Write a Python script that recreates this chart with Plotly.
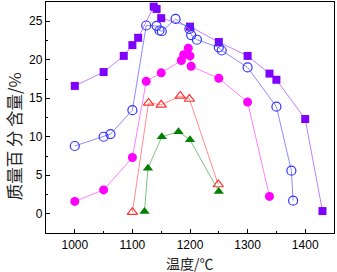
import plotly.graph_objects as go

# Series data (temperature in °C, mass percent)
sq_x = [1000, 1050, 1085, 1100, 1110, 1137, 1142, 1150, 1200, 1250, 1300, 1338, 1350, 1400, 1430]
sq_y = [16.6, 18.4, 20.5, 21.9, 22.85, 26.9, 26.6, 25.4, 24.3, 22.3, 20.5, 18.2, 17.4, 12.3, 0.35]

oc_x = [1000, 1050, 1062, 1100, 1124, 1142, 1147, 1151, 1175, 1199, 1202, 1212, 1250, 1255, 1300, 1350, 1376, 1379]
oc_y = [8.8, 10.0, 10.35, 13.45, 24.45, 24.4, 23.8, 23.7, 25.3, 24.0, 23.2, 22.6, 21.6, 21.2, 19.0, 13.9, 5.6, 1.7]

fc_x = [1000, 1050, 1100, 1124, 1150, 1185, 1189, 1197, 1200, 1202, 1250, 1300, 1338]
fc_y = [1.6, 3.1, 7.3, 17.2, 18.3, 19.9, 20.65, 21.5, 20.5, 19.15, 17.6, 14.5, 2.25]

ot_x = [1100, 1128, 1150, 1183, 1199, 1249]
ot_y = [0.2, 14.4, 14.15, 15.3, 14.9, 3.8]

ft_x = [1121, 1127, 1151, 1180, 1200, 1250]
ft_y = [0.3, 5.9, 10.0, 10.65, 9.6, 2.9]

x_ticks = [1000, 1100, 1200, 1300, 1400]
y_ticks = [0, 5, 10, 15, 20, 25]

fig = go.Figure()

def add(x, y, sym, mcol, lcol, size, open_=False):
    if open_:
        marker = dict(symbol=sym + "-open", size=size, color=mcol, line=dict(width=1.2, color=mcol))
    else:
        marker = dict(symbol=sym, size=size, color=mcol, line=dict(width=0))
    fig.add_trace(go.Scatter(x=x, y=y, mode="lines+markers",
                             line=dict(color=lcol, width=1), marker=marker,
                             showlegend=False, hoverinfo="skip"))

add(sq_x, sq_y, "square", "#8000FF", "#C080FF", 8)
add(oc_x, oc_y, "circle", "#3333FF", "#8C8CFF", 9, open_=True)
add(fc_x, fc_y, "circle", "#FF00FF", "#FF80FF", 9)
add(ot_x, ot_y, "triangle-up", "#FF3333", "#FF8C8C", 9, open_=True)
add(ft_x, ft_y, "triangle-up", "#008000", "#80C080", 9)

axis_common = dict(ticks="inside", ticklen=4, tickwidth=1, tickcolor="black",
                   showline=True, linecolor="black", linewidth=1.3, mirror=True,
                   showgrid=False, zeroline=False, automargin=False)

fig.update_layout(
    width=337, height=272,
    margin=dict(l=46, r=3, t=2, b=39),
    paper_bgcolor="white", plot_bgcolor="white",
    font=dict(family="Liberation Sans, Arial", size=12, color="black"),
    xaxis=dict(range=[950, 1450], tickvals=x_ticks,
               minor=dict(tickvals=[1050, 1150, 1250, 1350], ticks="inside", ticklen=2, tickcolor="black"),
               **axis_common),
    yaxis=dict(range=[-2.5, 27.5], tickvals=y_ticks,
               minor=dict(tickvals=[2.5, 7.5, 12.5, 17.5, 22.5], ticks="inside", ticklen=2, tickcolor="black"),
               **axis_common),
    annotations=[
        dict(text="质量百 分 含量/%", xref="paper", yref="paper", x=-0.11, y=0.42,
             textangle=-90, showarrow=False, xanchor="center", yanchor="middle",
             font=dict(family="Noto Sans CJK SC", size=16.5, color="#222")),
        dict(text="温度/℃", xref="paper", yref="paper", x=0.5, y=-0.128,
             showarrow=False, xanchor="center", yanchor="middle",
             font=dict(family="Noto Sans CJK SC", size=14, color="#222")),
    ],
)

fig.write_html("out.html", config={"displayModeBar": False},
               post_script="document.body.style.margin='0';document.body.style.overflow='hidden';")
